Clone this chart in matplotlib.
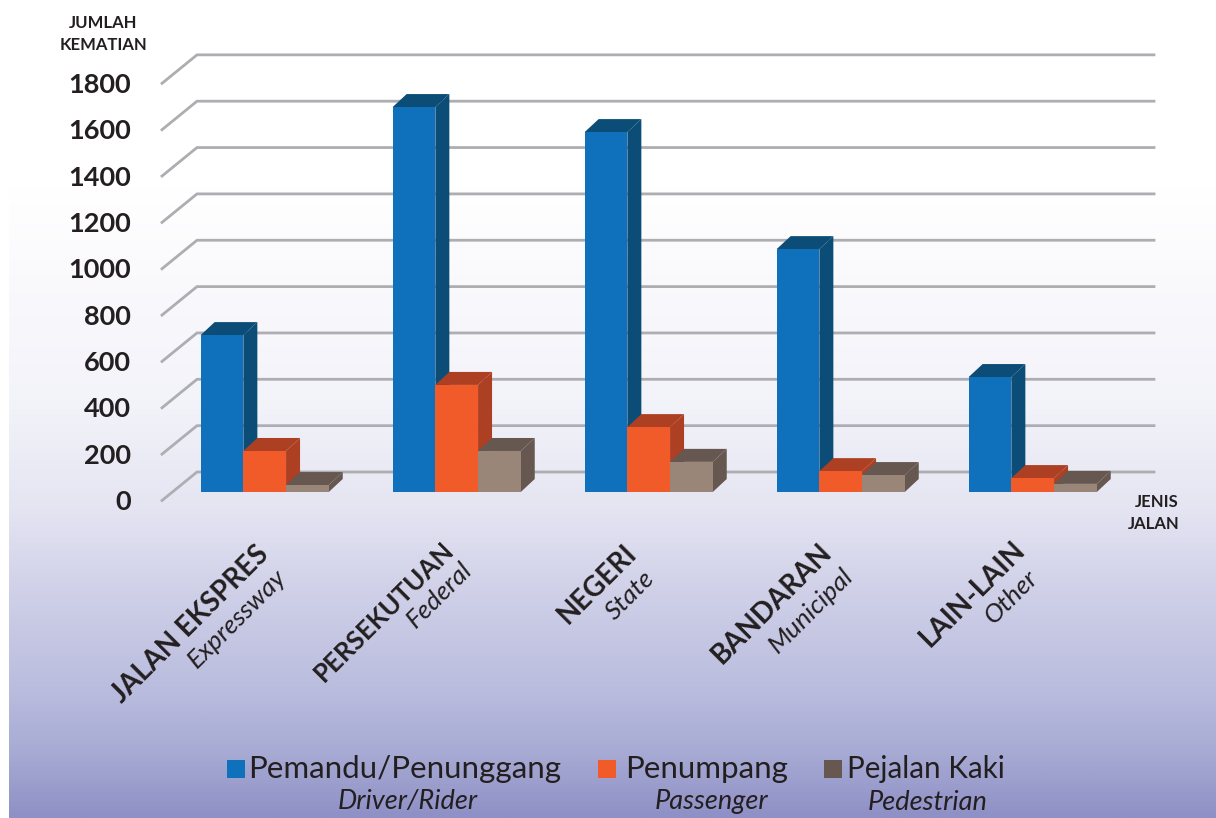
import numpy as np
import matplotlib
matplotlib.use("Agg")
import matplotlib.pyplot as plt
from matplotlib.colors import LinearSegmentedColormap
from matplotlib.patches import Rectangle

categories_bm = ["JALAN EKSPRES", "PERSEKUTUAN", "NEGERI", "BANDARAN", "LAIN-LAIN"]
categories_en = ["Expressway", "Federal", "State", "Municipal", "Other"]
driver = [677, 1661, 1553, 1048, 496]
passenger = [177, 462, 280, 90, 60]
pedestrian = [30, 177, 130, 73, 35]
y_ticks = [0, 200, 400, 600, 800, 1000, 1200, 1400, 1600, 1800]

W, H = 1216, 818
PX_PER_UNIT = 46.35 / 200
BASE_Y = 492
GROUP_PX = 192
X0 = 264.7
TXT = "#231f20"
plt.rcParams["font.family"] = ["Lato", "DejaVu Sans"]

fig = plt.figure(figsize=(W / 100, H / 100), dpi=100, facecolor="white")

def fx(x): return x / W
def fy(y): return 1 - y / H

# background gradient
bg = fig.add_axes([fx(9), 0, 1 - fx(9), fy(185)])
bg.axis("off")
cmap = LinearSegmentedColormap.from_list(
    "bg", [(0, "#ffffff"), (0.34, "#f3f3fa"), (0.5, "#e6e6f3"), (0.66, "#cdcee7"),
           (0.81, "#b8bbdd"), (0.9, "#a7aad3"), (1, "#8f90c6")])
bg.imshow(np.linspace(0, 1, 400)[:, None], aspect="auto", cmap=cmap, vmin=0, vmax=1)

ax = fig.add_axes([0, 0, 1, 1], facecolor="none")
ax.set_xlim((0 - X0) / GROUP_PX, (W - X0) / GROUP_PX)
ax.set_ylim((BASE_Y - H) / PX_PER_UNIT, BASE_Y / PX_PER_UNIT)
ax.axis("off")

def dx(p): return p / GROUP_PX
def dv(p): return p / PX_PER_UNIT

GRID = "#aeaeb2"
xb0, xb1, xf = (197 - X0) / GROUP_PX, (1154 - X0) / GROUP_PX, (162 - X0) / GROUP_PX
for v in y_ticks:
    ax.plot([xf, xb0, xb1], [v - dv(8.5), v + dv(20), v + dv(20)], color=GRID, lw=2.0,
            solid_joinstyle="miter", zorder=1)
    fig.text(fx(131), fy(BASE_Y - v * PX_PER_UNIT + 10), str(v), ha="right", va="center",
             fontsize=19.5, fontweight="bold", color=TXT)

BW = 42.7 / GROUP_PX
DX, DV = dx(14), dv(13)
series = [
    (driver, -BW, "#0f71bb", "#0b4d76"),
    (passenger, 0, "#f15a29", "#ad3f23"),
    (pedestrian, BW, "#9a8678", "#665851"),
]
z = 3
for i in range(len(categories_bm)):
    for vals, off, front, dark in series:
        v = vals[i]
        c = i + off
        l, r = c - BW / 2, c + BW / 2
        ax.fill([r, r + DX, r + DX, r], [0, DV, v + DV, v], color=dark, lw=0, zorder=z)
        ax.fill([l, r, r + DX, l + DX], [v, v, v + DV, v + DV], color=dark, lw=0, zorder=z)
        ax.bar(c, v, BW, color=front, lw=0, zorder=z + 0.5)
        z += 1

# rotated category labels (anchor: upper-right end of the text)
anchors_bm = [(255, 541), (441, 537), (623, 540), (818, 539), (1012, 536)]
anchors_en = [(274, 565), (460, 558), (643, 566), (841, 564), (1026, 566)]
sizes_bm = [20, 18.5, 20, 20, 20]
for name, en, a, b, fs in zip(categories_bm, categories_en, anchors_bm, anchors_en, sizes_bm):
    fig.text(fx(a[0]), fy(a[1]), name, rotation=45, rotation_mode="anchor", ha="right", va="top",
             fontsize=fs, fontweight="bold", color=TXT)
    fig.text(fx(b[0]), fy(b[1]), en, rotation=45, rotation_mode="anchor", ha="right", va="top",
             fontsize=19, fontstyle="italic", fontweight="regular", color=TXT)

# axis titles
for s, x, y in [("JUMLAH", 103, 23), ("KEMATIAN", 103, 45), ("JENIS", 1157, 502), ("JALAN", 1154, 524)]:
    fig.text(fx(x), fy(y), s, ha="center", va="center", fontsize=12, fontweight="bold", color=TXT)

# legend
legend = [
    (227, "#0f71bb", "Pemandu/Penunggang", 248, 22.5, "Driver/Rider", 408),
    (598, "#f15a29", "Penumpang", 625, 22.5, "Passenger", 711),
    (824, "#665851", "Pejalan Kaki", 847, 21.3, "Pedestrian", 928),
]
for sx, col, t1, tx, fs, t2, cx in legend:
    fig.add_artist(Rectangle((fx(sx), fy(778)), 18 / W, 18 / H, transform=fig.transFigure, color=col, lw=0))
    fig.text(fx(tx), fy(769), t1, ha="left", va="center", fontsize=fs, fontweight="regular", color=TXT)
    fig.text(fx(cx), fy(802), t2, ha="center", va="center", fontsize=19.5, fontstyle="italic",
             fontweight="regular", color=TXT)

fig.savefig("out.png", dpi=100)
